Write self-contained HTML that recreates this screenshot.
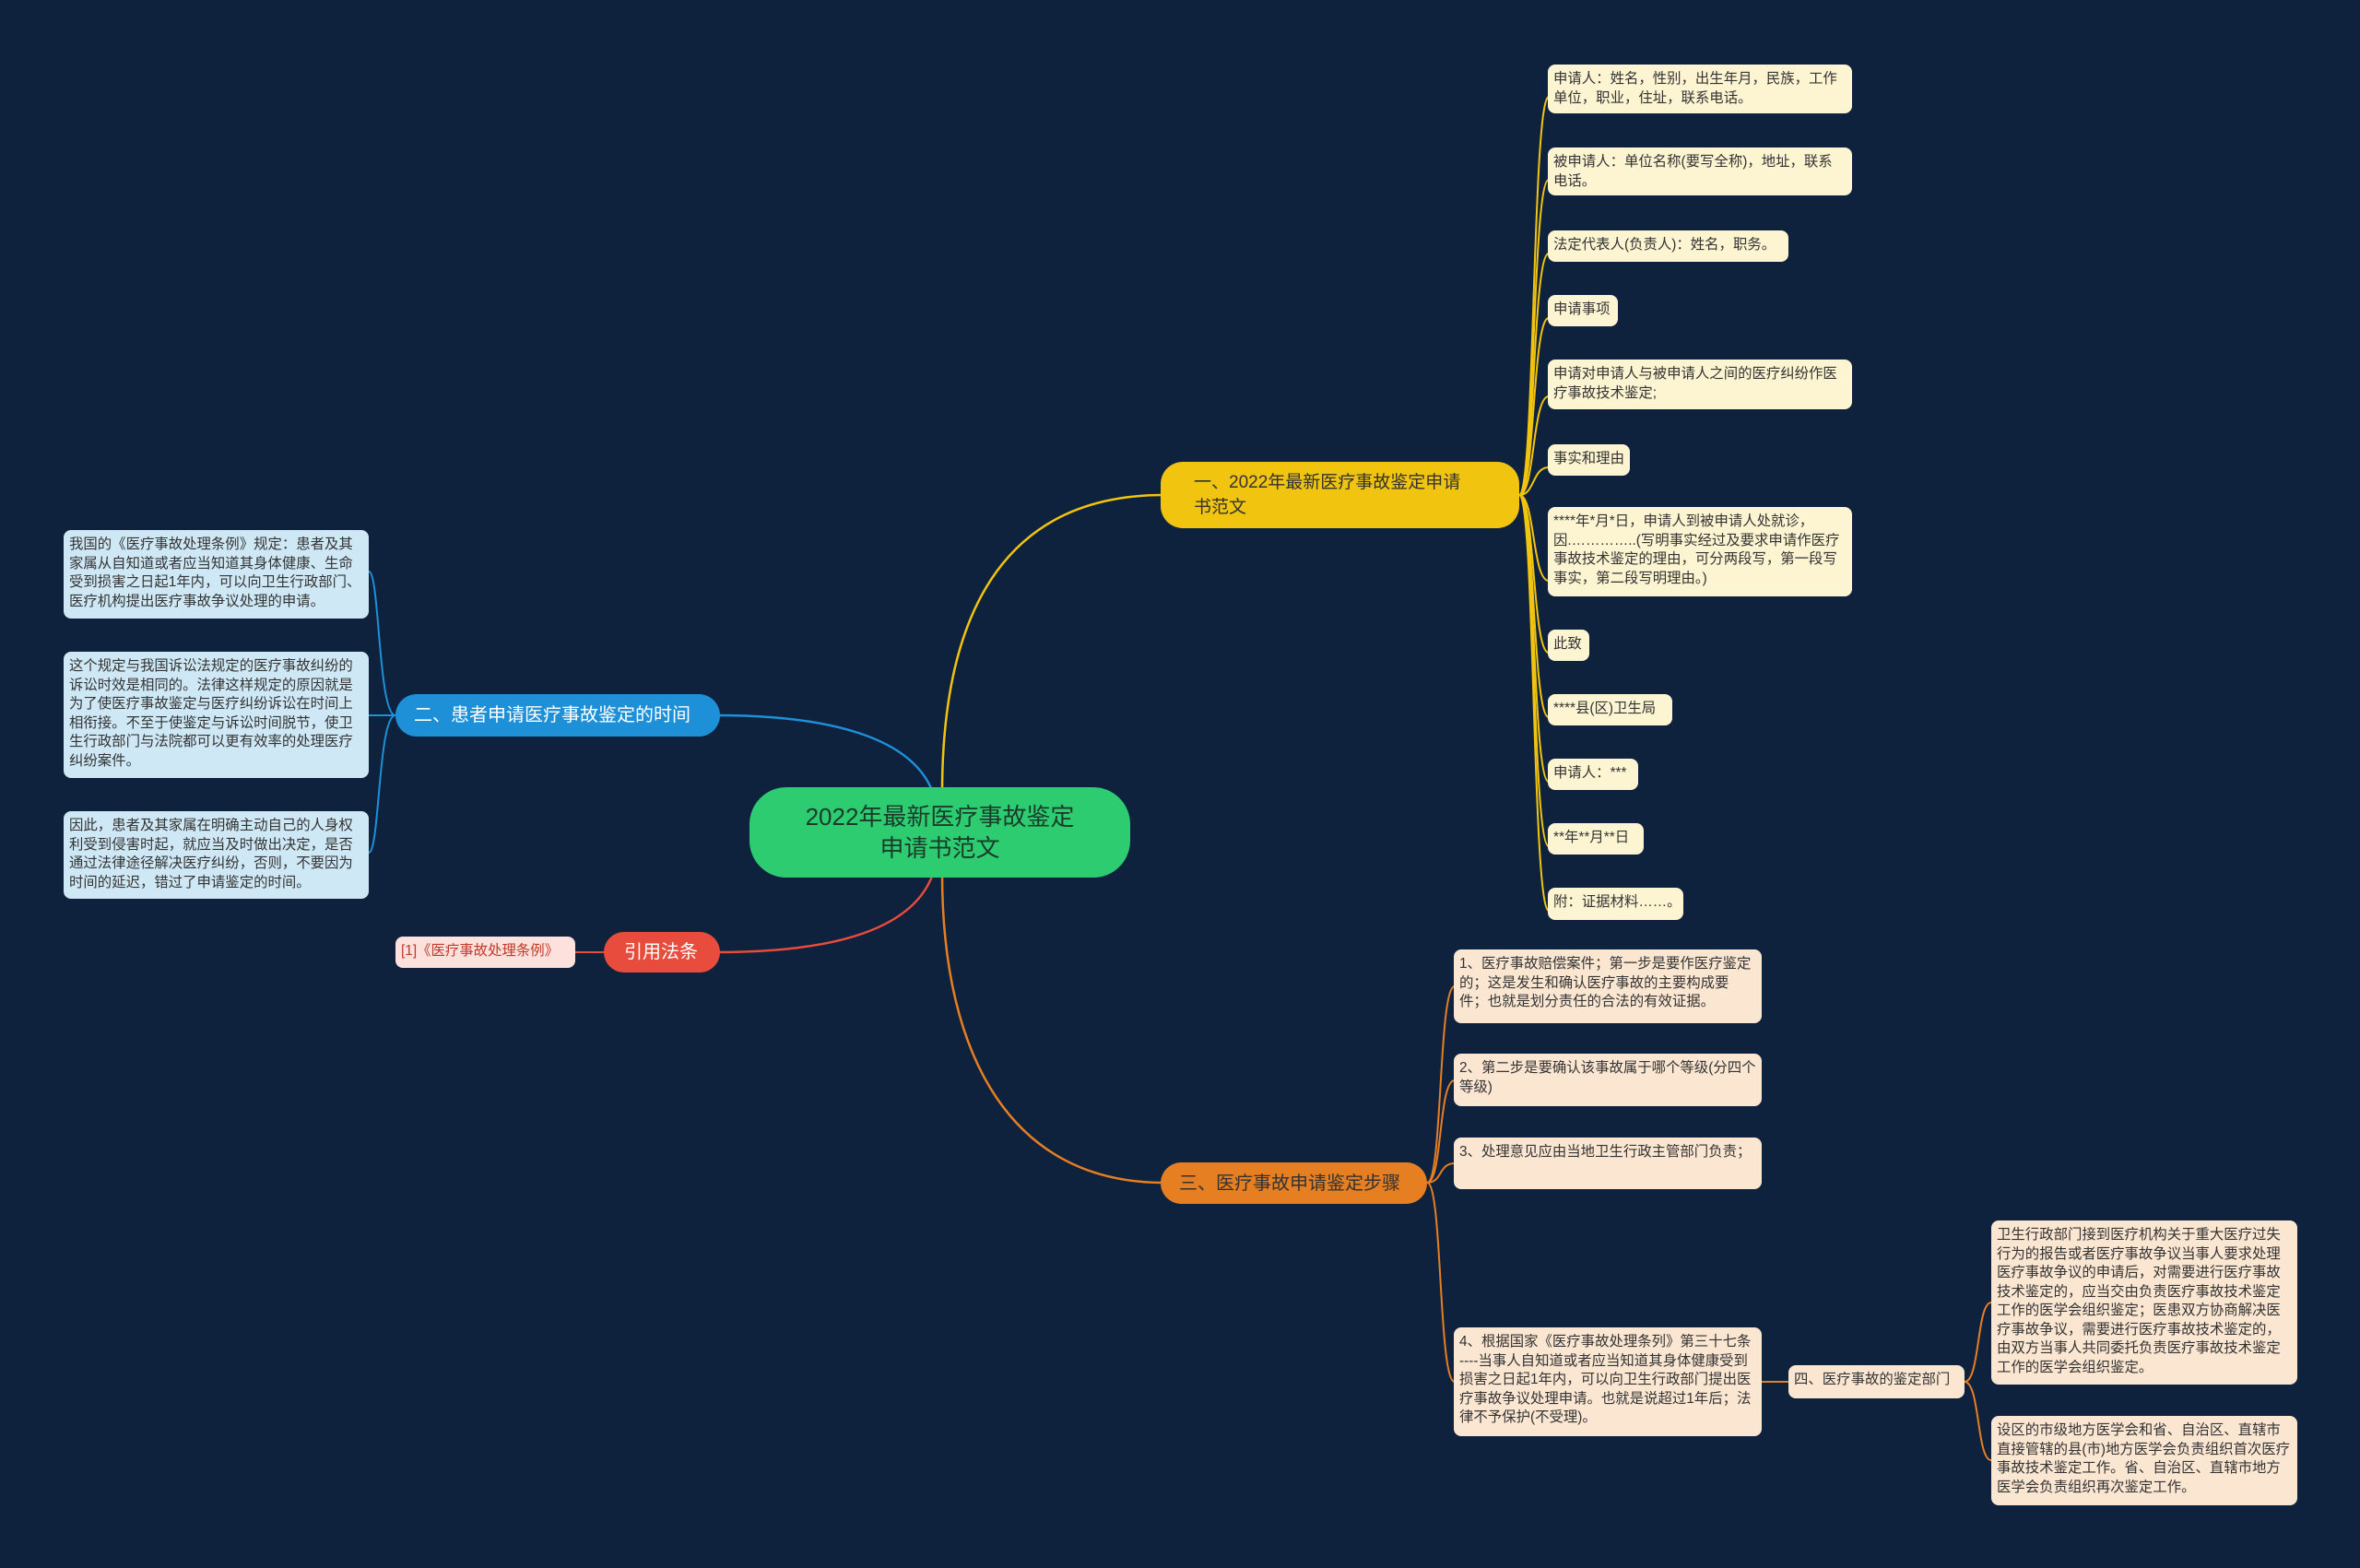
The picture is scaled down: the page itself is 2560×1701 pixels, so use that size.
<!DOCTYPE html>
<html><head><meta charset="utf-8">
<style>
html,body{margin:0;padding:0;}
body{width:2560px;height:1701px;background:#0e213d;position:relative;overflow:hidden;font-family:"Liberation Sans","Noto Sans CJK SC",sans-serif;}
.n{position:absolute;box-sizing:border-box;border-radius:8px;font-size:15.4px;line-height:20.5px;padding:6px 6px;color:#333;overflow:hidden;word-break:break-all;}
.s{white-space:nowrap;}
.y{background:#fdf4d2;}
.b{background:#cfe8f6;}
.o{background:#fbe6d2;}
.br{position:absolute;box-sizing:border-box;border-radius:24px;font-size:20px;line-height:26px;display:flex;align-items:center;padding:0 20px;}
svg{position:absolute;left:0;top:0;}
</style></head><body>
<svg width="2560" height="1701" fill="none" stroke-width="2.5">
<path d="M1022 860 C1022 650,1100 537,1262 537" stroke="#f1c40f"/>
<path d="M1012 860 C990 800,900 776,778 776" stroke="#1e90d8"/>
<path d="M1012 948 C990 1010,900 1033,778 1033" stroke="#e74c3c"/>
<path d="M1022 948 C1022 1150,1100 1283,1262 1283" stroke="#e67e22"/>
<g stroke="#f1c40f" stroke-width="2">
<path d="M1648 537 C1665 537,1662 105,1680 105"/>
<path d="M1648 537 C1665 537,1662 195,1680 195"/>
<path d="M1648 537 C1665 537,1662 275,1680 275"/>
<path d="M1648 537 C1665 537,1662 345,1680 345"/>
<path d="M1648 537 C1665 537,1662 430,1680 430"/>
<path d="M1648 537 C1665 537,1662 507,1680 507"/>
<path d="M1648 537 C1665 537,1662 630,1680 630"/>
<path d="M1648 537 C1665 537,1662 708,1680 708"/>
<path d="M1648 537 C1665 537,1662 778,1680 778"/>
<path d="M1648 537 C1665 537,1662 848,1680 848"/>
<path d="M1648 537 C1665 537,1662 918,1680 918"/>
<path d="M1648 537 C1665 537,1662 988,1680 988"/>
</g>
<g stroke="#1e90d8" stroke-width="2">
<path d="M429 776 C410 776,412 620,400 620"/>
<path d="M429 776 C410 776,412 776,400 776"/>
<path d="M429 776 C410 776,412 925,400 925"/>
</g>
<path d="M655 1033 L624 1033" stroke="#e74c3c" stroke-width="2"/>
<g stroke="#e67e22" stroke-width="2">
<path d="M1548 1283 C1565 1283,1560 1070,1578 1070"/>
<path d="M1548 1283 C1565 1283,1560 1172,1578 1172"/>
<path d="M1548 1283 C1565 1283,1560 1262,1578 1262"/>
<path d="M1548 1283 C1565 1283,1560 1499,1578 1499"/>
<path d="M1911 1499 L1940 1499"/>
<path d="M2131 1499 C2148 1499,2144 1413,2160 1413"/>
<path d="M2131 1499 C2148 1499,2144 1584,2160 1584"/>
</g>
</svg>

<div class="br" style="left:813px;top:854px;width:413px;height:98px;background:#2ecc71;border-radius:40px;font-size:26px;line-height:34px;justify-content:center;text-align:center;color:#1a3a2a;padding:0 20px;white-space:nowrap;">2022年最新医疗事故鉴定<br>申请书范文</div>
<div class="br s" style="left:1259px;top:501px;width:389px;height:72px;background:#f1c40f;color:#333;font-size:19px;line-height:27px;padding:0 18px 0 36px;">一、2022年最新医疗事故鉴定申请<br>书范文</div>
<div class="br s" style="left:429px;top:753px;width:352px;height:46px;background:#1e90d8;color:#fff;">二、患者申请医疗事故鉴定的时间</div>
<div class="br s" style="left:655px;top:1011px;width:126px;height:44px;background:#e74c3c;color:#fff;padding:0 22px;">引用法条</div>
<div class="br s" style="left:1259px;top:1261px;width:289px;height:45px;background:#e67e22;color:#333;">三、医疗事故申请鉴定步骤</div>

<div class="n y" style="left:1679px;top:70px;width:330px;height:53px;">申请人：姓名，性别，出生年月，民族，工作单位，职业，住址，联系电话。</div>
<div class="n y" style="left:1679px;top:160px;width:330px;height:52px;">被申请人：单位名称(要写全称)，地址，联系电话。</div>
<div class="n y s" style="left:1679px;top:250px;width:261px;height:34px;">法定代表人(负责人)：姓名，职务。</div>
<div class="n y s" style="left:1679px;top:320px;width:76px;height:34px;">申请事项</div>
<div class="n y" style="left:1679px;top:390px;width:330px;height:54px;">申请对申请人与被申请人之间的医疗纠纷作医疗事故技术鉴定;</div>
<div class="n y s" style="left:1679px;top:482px;width:89px;height:34px;">事实和理由</div>
<div class="n y" style="left:1679px;top:550px;width:330px;height:97px;">****年*月*日，申请人到被申请人处就诊，因.…………..(写明事实经过及要求申请作医疗事故技术鉴定的理由，可分两段写，第一段写事实，第二段写明理由。)</div>
<div class="n y s" style="left:1679px;top:683px;width:45px;height:34px;">此致</div>
<div class="n y s" style="left:1679px;top:753px;width:135px;height:34px;">****县(区)卫生局</div>
<div class="n y s" style="left:1679px;top:823px;width:98px;height:34px;">申请人：***</div>
<div class="n y s" style="left:1679px;top:893px;width:104px;height:34px;">**年**月**日</div>
<div class="n y s" style="left:1679px;top:963px;width:147px;height:35px;">附：证据材料……。</div>

<div class="n b" style="left:69px;top:575px;width:331px;height:96px;">我国的《医疗事故处理条例》规定：患者及其家属从自知道或者应当知道其身体健康、生命受到损害之日起1年内，可以向卫生行政部门、医疗机构提出医疗事故争议处理的申请。</div>
<div class="n b" style="left:69px;top:707px;width:331px;height:137px;">这个规定与我国诉讼法规定的医疗事故纠纷的诉讼时效是相同的。法律这样规定的原因就是为了使医疗事故鉴定与医疗纠纷诉讼在时间上相衔接。不至于使鉴定与诉讼时间脱节，使卫生行政部门与法院都可以更有效率的处理医疗纠纷案件。</div>
<div class="n b" style="left:69px;top:880px;width:331px;height:95px;">因此，患者及其家属在明确主动自己的人身权利受到侵害时起，就应当及时做出决定，是否通过法律途径解决医疗纠纷，否则，不要因为时间的延迟，错过了申请鉴定的时间。</div>

<div class="n s" style="left:429px;top:1016px;width:195px;height:34px;background:#fde1dc;color:#c0392b;">[1]《医疗事故处理条例》</div>

<div class="n o" style="left:1577px;top:1030px;width:334px;height:80px;">1、医疗事故赔偿案件；第一步是要作医疗鉴定的；这是发生和确认医疗事故的主要构成要件；也就是划分责任的合法的有效证据。</div>
<div class="n o" style="left:1577px;top:1143px;width:334px;height:57px;">2、第二步是要确认该事故属于哪个等级(分四个等级)</div>
<div class="n o" style="left:1577px;top:1234px;width:334px;height:56px;">3、处理意见应由当地卫生行政主管部门负责；</div>
<div class="n o" style="left:1577px;top:1440px;width:334px;height:118px;">4、根据国家《医疗事故处理条列》第三十七条 ----当事人自知道或者应当知道其身体健康受到损害之日起1年内，可以向卫生行政部门提出医疗事故争议处理申请。也就是说超过1年后；法律不予保护(不受理)。</div>
<div class="n o s" style="left:1940px;top:1481px;width:191px;height:36px;">四、医疗事故的鉴定部门</div>
<div class="n o" style="left:2160px;top:1324px;width:332px;height:178px;">卫生行政部门接到医疗机构关于重大医疗过失行为的报告或者医疗事故争议当事人要求处理医疗事故争议的申请后，对需要进行医疗事故技术鉴定的，应当交由负责医疗事故技术鉴定工作的医学会组织鉴定；医患双方协商解决医疗事故争议，需要进行医疗事故技术鉴定的，由双方当事人共同委托负责医疗事故技术鉴定工作的医学会组织鉴定。</div>
<div class="n o" style="left:2160px;top:1536px;width:332px;height:97px;">设区的市级地方医学会和省、自治区、直辖市直接管辖的县(市)地方医学会负责组织首次医疗事故技术鉴定工作。省、自治区、直辖市地方医学会负责组织再次鉴定工作。</div>
</body></html>
